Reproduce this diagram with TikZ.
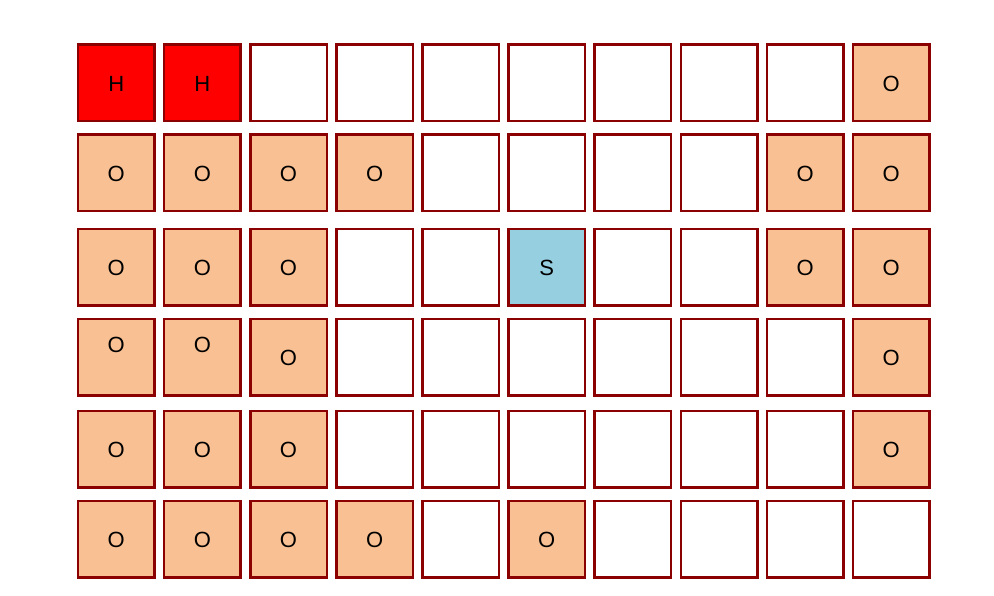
\documentclass[tikz,border=0pt]{standalone}
\usepackage{fontspec}
\setmainfont{Liberation Sans}
\definecolor{cellborder}{HTML}{8B0000}
\definecolor{peach}{HTML}{F9C193}
\definecolor{hred}{HTML}{FF0000}
\definecolor{sblue}{HTML}{96CFE0}
\tikzset{
  cellfont/.style={font=\fontsize{22}{26}\selectfont},
  cell/.style={draw=cellborder, line width=2.5pt, minimum width=76.5pt, minimum height=76.5pt, inner sep=0pt, cellfont, text=black, text depth=0pt, text height=17.5pt},
  emptycell/.style={cell, fill=white},
  ocell/.style={cell, fill=peach},
  hcell/.style={cell, fill=hred},
  scell/.style={cell, fill=sblue},
}
\begin{document}
\begin{tikzpicture}[x=1pt,y=-1pt]
\useasboundingbox (0,0) rectangle (994,595);
\fill[white] (0,0) rectangle (994,595);
\def\rowA{82.5}
\def\rowB{172.8}
\def\rowC{267}
\def\rowD{357}
\def\rowE{449}
\def\rowF{539}
% row 1
\node[hcell] (c1-1) at (116.3,\rowA) {H};
\node[hcell] (c1-2) at (202.4,\rowA) {H};
\node[emptycell] (c1-3) at (288.5,\rowA) {};
\node[emptycell] (c1-4) at (374.6,\rowA) {};
\node[emptycell] (c1-5) at (460.7,\rowA) {};
\node[emptycell] (c1-6) at (546.8,\rowA) {};
\node[emptycell] (c1-7) at (632.9,\rowA) {};
\node[emptycell] (c1-8) at (719.0,\rowA) {};
\node[emptycell] (c1-9) at (805.1,\rowA) {};
\node[ocell] (c1-10) at (891.2,\rowA) {O};
% row 2
\node[ocell] (c2-1) at (116.3,\rowB) {O};
\node[ocell] (c2-2) at (202.4,\rowB) {O};
\node[ocell] (c2-3) at (288.5,\rowB) {O};
\node[ocell] (c2-4) at (374.6,\rowB) {O};
\node[emptycell] (c2-5) at (460.7,\rowB) {};
\node[emptycell] (c2-6) at (546.8,\rowB) {};
\node[emptycell] (c2-7) at (632.9,\rowB) {};
\node[emptycell] (c2-8) at (719.0,\rowB) {};
\node[ocell] (c2-9) at (805.1,\rowB) {O};
\node[ocell] (c2-10) at (891.2,\rowB) {O};
% row 3
\node[ocell] (c3-1) at (116.3,\rowC) {O};
\node[ocell] (c3-2) at (202.4,\rowC) {O};
\node[ocell] (c3-3) at (288.5,\rowC) {O};
\node[emptycell] (c3-4) at (374.6,\rowC) {};
\node[emptycell] (c3-5) at (460.7,\rowC) {};
\node[scell] (c3-6) at (546.8,\rowC) {S};
\node[emptycell] (c3-7) at (632.9,\rowC) {};
\node[emptycell] (c3-8) at (719.0,\rowC) {};
\node[ocell] (c3-9) at (805.1,\rowC) {O};
\node[ocell] (c3-10) at (891.2,\rowC) {O};
% row 4
\node[ocell, label={[cellfont, text depth=0pt, text height=17.5pt, yshift=13pt]center:O}] (c4-1) at (116.3,\rowD) {};
\node[ocell, label={[cellfont, text depth=0pt, text height=17.5pt, yshift=13pt]center:O}] (c4-2) at (202.4,\rowD) {};
\node[ocell] (c4-3) at (288.5,\rowD) {O};
\node[emptycell] (c4-4) at (374.6,\rowD) {};
\node[emptycell] (c4-5) at (460.7,\rowD) {};
\node[emptycell] (c4-6) at (546.8,\rowD) {};
\node[emptycell] (c4-7) at (632.9,\rowD) {};
\node[emptycell] (c4-8) at (719.0,\rowD) {};
\node[emptycell] (c4-9) at (805.1,\rowD) {};
\node[ocell] (c4-10) at (891.2,\rowD) {O};
% row 5
\node[ocell] (c5-1) at (116.3,\rowE) {O};
\node[ocell] (c5-2) at (202.4,\rowE) {O};
\node[ocell] (c5-3) at (288.5,\rowE) {O};
\node[emptycell] (c5-4) at (374.6,\rowE) {};
\node[emptycell] (c5-5) at (460.7,\rowE) {};
\node[emptycell] (c5-6) at (546.8,\rowE) {};
\node[emptycell] (c5-7) at (632.9,\rowE) {};
\node[emptycell] (c5-8) at (719.0,\rowE) {};
\node[emptycell] (c5-9) at (805.1,\rowE) {};
\node[ocell] (c5-10) at (891.2,\rowE) {O};
% row 6
\node[ocell] (c6-1) at (116.3,\rowF) {O};
\node[ocell] (c6-2) at (202.4,\rowF) {O};
\node[ocell] (c6-3) at (288.5,\rowF) {O};
\node[ocell] (c6-4) at (374.6,\rowF) {O};
\node[emptycell] (c6-5) at (460.7,\rowF) {};
\node[ocell] (c6-6) at (546.8,\rowF) {O};
\node[emptycell] (c6-7) at (632.9,\rowF) {};
\node[emptycell] (c6-8) at (719.0,\rowF) {};
\node[emptycell] (c6-9) at (805.1,\rowF) {};
\node[emptycell] (c6-10) at (891.2,\rowF) {};
\end{tikzpicture}
\end{document}
